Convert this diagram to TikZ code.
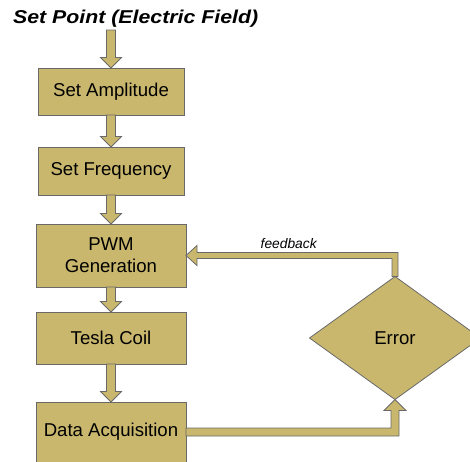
\documentclass[tikz,border=0pt]{standalone}
\usepackage{graphicx}
\usepackage{fontspec}
\setmainfont{Liberation Sans}
\usetikzlibrary{shapes.geometric,calc}
\definecolor{tan}{RGB}{201,183,110}
\definecolor{edge}{RGB}{105,105,105}
\tikzset{
  blk/.style={fill=tan,draw=edge,line width=0.8pt,line join=miter},
  boxnode/.style={rectangle,fill=tan,draw=edge,line width=0.8pt,inner sep=0pt,outer sep=0pt,
    align=center,font=\fontsize{18.6}{22}\selectfont,anchor=north west},
  errnode/.style={diamond,fill=tan,draw=edge,line width=0.8pt,inner sep=0pt,outer sep=0pt,
    minimum width=171pt,minimum height=123pt,font=\fontsize{18.6}{22}\selectfont},
}
\newcommand\downblk[2]{%
  \draw[blk] let \p1=(#1), \p2=(#2) in
  (\x1-4.5pt,\y1) -- (\x1+4.5pt,\y1) -- (\x1+4.5pt,\y2+10.5pt) -- (\x1+10.5pt,\y2+10.5pt)
  -- (\x1,\y2) -- (\x1-10.5pt,\y2+10.5pt) -- (\x1-4.5pt,\y2+10.5pt) -- cycle;}
\begin{document}
\begin{tikzpicture}[x=1pt,y=-1pt]
\useasboundingbox (0,0) rectangle (470,461);
\clip (0,0) rectangle (470,461);
\node[anchor=base west,inner sep=0pt,font=\fontsize{18.6}{22}\selectfont\bfseries\itshape] (title) at (13,23.3) {\scalebox{1.145}[1]{Set Point (Electric Field)}};
\coordinate (start) at (111,30);
\node[boxnode,minimum width=146pt,minimum height=47pt] (A) at (38,68) {Set Amplitude};
\node[boxnode,minimum width=146pt,minimum height=48pt] (B) at (38,147) {Set Frequency};
\node[boxnode,minimum width=150pt,minimum height=63pt] (C) at (36,224) {PWM\\Generation};
\node[boxnode,minimum width=150pt,minimum height=52pt] (D) at (36,312) {Tesla Coil};
\node[boxnode,minimum width=150pt,minimum height=60pt] (E) at (36,402) {Data Acquisition};
\node[errnode] (err) at (395,338) {Error};
\downblk{start}{A.north}
\downblk{A.south}{B.north}
\downblk{B.south}{C.north}
\downblk{C.south}{D.north}
\downblk{D.south}{E.north}
% feedback arrow
\draw[blk] let \p1=(err.north), \p2=(C.east) in
  (\x1+3pt,\y1) -- (\x1+3pt,\y2+3pt) -- (\x2+11pt,\y2+3pt) -- (\x2+11pt,\y2+10pt)
  -- (\x2,\y2) -- (\x2+11pt,\y2-10pt) -- (\x2+11pt,\y2-3pt) -- (\x1-3pt,\y2-3pt)
  -- (\x1-3pt,\y1) -- cycle;
% data to error
\draw[blk] let \p1=(E.east), \p2=(err.south) in
  (\x1,\y1+4pt) -- (\x2-4pt,\y1+4pt) -- (\x2-4pt,\y2-11pt) -- (\x2-11pt,\y2-11pt)
  -- (\x2,\y2) -- (\x2+11pt,\y2-11pt) -- (\x2+4pt,\y2-11pt) -- (\x2+4pt,\y1-4pt)
  -- (\x1,\y1-4pt) -- cycle;
\node[anchor=base,inner sep=0pt,font=\fontsize{13.8}{16}\selectfont\itshape] (fb) at (288.7,248.3) {feedback};
\end{tikzpicture}
\end{document}
